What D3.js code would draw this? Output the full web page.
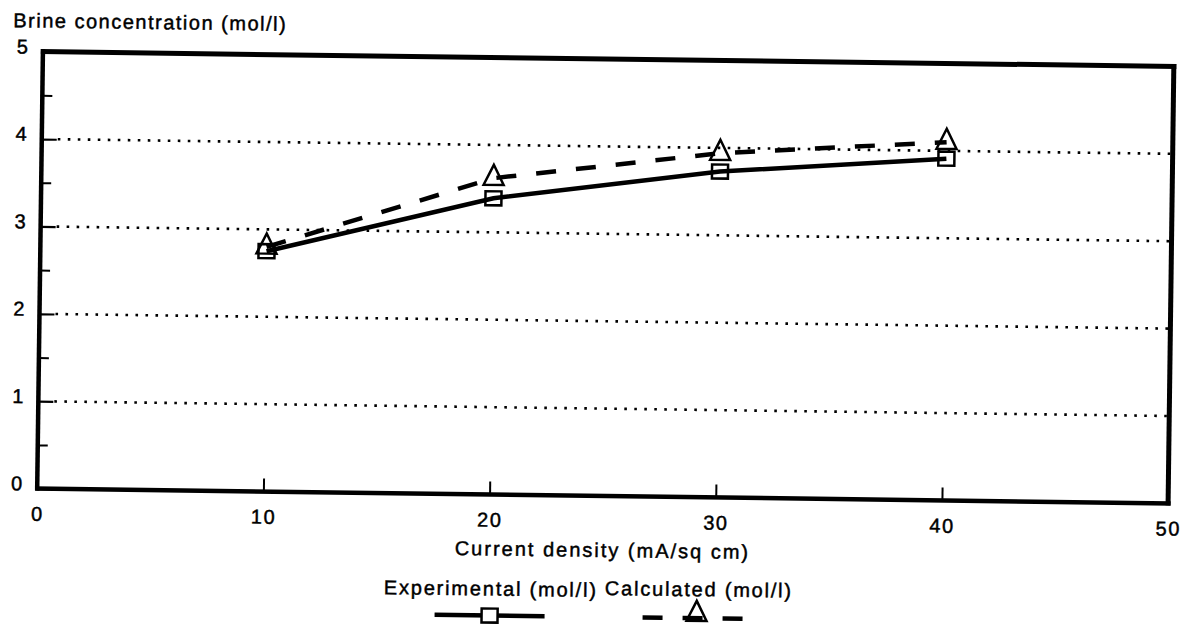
<!DOCTYPE html>
<html>
<head>
<meta charset="utf-8">
<script src="https://cdn.jsdelivr.net/npm/d3@7"></script>
<style>
  html, body { margin: 0; padding: 0; background: #fff; }
  svg { display: block; }
  text { font-family: "Liberation Sans", Arial, sans-serif; fill: #000; stroke: #000; stroke-width: 0.45px; }
</style>
</head>
<body>
<svg id="chart" width="1186" height="624"></svg>
<script>
// ---- data ----
const categories = [10, 20, 30, 40];
const experimental = [2.75, 3.39, 3.73, 3.91];
const calculated = [2.8, 3.62, 3.94, 4.1];
const xTicks = [0, 10, 20, 30, 40, 50];
const yTicks = [0, 1, 2, 3, 4, 5];
const yMinorTicks = [0.5, 1.5, 2.5, 3.5, 4.5];
const gridValues = [1, 2, 3, 4];
const titleText = "Brine concentration (mol/l)";
const xTitleText = "Current density (mA/sq cm)";
const seriesNames = ["Experimental (mol/l)", "Calculated (mol/l)"];

// ---- layout ----
const W = 1186, H = 624;
const pLeft = 40, pRight = 1171, pTop = 59, pBottom = 496;

const svg = d3.select("#chart");
svg.append("rect").attr("width", W).attr("height", H).attr("fill", "#fff");
const g = svg.append("g").attr("transform", "rotate(0.75, 604, 278)");

const x = d3.scaleLinear().domain([0, 50]).range([pLeft, pRight]);
const y = d3.scaleLinear().domain([0, 5]).range([pBottom, pTop]);

// dotted gridlines
g.selectAll(".grid").data(gridValues).enter().append("line")
  .attr("x1", x(0) + 16).attr("x2", x(50))
  .attr("y1", d => y(d)).attr("y2", d => y(d))
  .attr("stroke", "#000").attr("stroke-width", 2.6)
  .attr("stroke-dasharray", "2.6 7.4");

// y axis major
const yAxis = g.append("g").attr("transform", `translate(${pLeft},0)`)
  .call(d3.axisLeft(y).tickValues(yTicks).tickSize(-15).tickPadding(15).tickFormat(d3.format("d")));
yAxis.select(".domain").remove();
yAxis.selectAll(".tick line").attr("stroke", "#000").attr("stroke-width", 2.2);
yAxis.selectAll("text").attr("font-size", 20).attr("dy", "0.08em")
  .style("font-family", '"Liberation Sans", Arial, sans-serif');

// y axis minor
const yMinor = g.append("g").attr("transform", `translate(${pLeft},0)`)
  .call(d3.axisLeft(y).tickValues(yMinorTicks).tickSize(-10).tickFormat(""));
yMinor.select(".domain").remove();
yMinor.selectAll(".tick line").attr("stroke", "#000").attr("stroke-width", 2);

// x axis
const xAxis = g.append("g").attr("transform", `translate(0,${pBottom})`)
  .call(d3.axisBottom(x).tickValues(xTicks).tickSize(-13).tickPadding(18).tickFormat(d3.format("d")));
xAxis.select(".domain").remove();
xAxis.selectAll(".tick line").attr("stroke", "#000").attr("stroke-width", 2);
xAxis.selectAll("text").attr("font-size", 20).attr("letter-spacing", 1.5)
  .style("font-family", '"Liberation Sans", Arial, sans-serif');

// frame
const frame = [
  {x1: pLeft, y1: pTop, x2: pRight, y2: pTop, w: 5},
  {x1: pRight, y1: pTop, x2: pRight, y2: pBottom, w: 5},
  {x1: pLeft, y1: pTop, x2: pLeft, y2: pBottom, w: 4.5},
  {x1: pLeft, y1: pBottom, x2: pRight, y2: pBottom, w: 4.5}
];
g.selectAll(".frame").data(frame).enter().append("line")
  .attr("x1", d => d.x1 - (d.y1 === d.y2 ? 2 : 0)).attr("x2", d => d.x2 + (d.y1 === d.y2 ? 2.5 : 0))
  .attr("y1", d => d.y1 - (d.x1 === d.x2 ? 2.5 : 0)).attr("y2", d => d.y2 + (d.x1 === d.x2 ? 2 : 0))
  .attr("stroke", "#000").attr("stroke-width", d => d.w);

// series lines
const expData = categories.map((c, i) => [c, experimental[i]]);
const calcData = categories.map((c, i) => [c, calculated[i]]);
const line = d3.line().x(d => x(d[0])).y(d => y(d[1]));

g.append("path").datum(expData).attr("d", line)
  .attr("fill", "none").attr("stroke", "#000").attr("stroke-width", 4.5);
g.append("path").datum(calcData).attr("d", line)
  .attr("fill", "none").attr("stroke", "#000").attr("stroke-width", 4.5)
  .attr("stroke-dasharray", "20 20");

// markers
const sqW = 16, sqH = 14;
const triW = 20, triH = 20;
const triPath = `M0,${-2 * triH / 3}L${triW / 2},${triH / 3}L${-triW / 2},${triH / 3}Z`;

function squares(sel, data) {
  sel.selectAll(null).data(data).enter().append("rect")
    .attr("x", d => x(d[0]) - sqW / 2).attr("y", d => y(d[1]) - sqH / 2)
    .attr("width", sqW).attr("height", sqH)
    .attr("fill", "none").attr("stroke", "#000").attr("stroke-width", 2.5);
}
function triangles(sel, data) {
  sel.selectAll(null).data(data).enter().append("path")
    .attr("transform", d => `translate(${x(d[0])},${y(d[1])})`)
    .attr("d", triPath)
    .attr("fill", "none").attr("stroke", "#000").attr("stroke-width", 2.5);
}
squares(g.append("g"), expData);
triangles(g.append("g"), calcData);

// titles
g.append("text").attr("x", 10).attr("y", 35).attr("font-size", 20)
  .attr("letter-spacing", 1.5).text(titleText);
g.append("text").attr("x", 606).attr("y", 557).attr("font-size", 20)
  .attr("text-anchor", "middle").attr("letter-spacing", 2).text(xTitleText);

// legend
g.append("text").attr("x", 388).attr("y", 597).attr("font-size", 20)
  .attr("letter-spacing", 1.8).text(seriesNames[0]);
g.append("text").attr("x", 797).attr("y", 595).attr("font-size", 20)
  .attr("text-anchor", "end").attr("letter-spacing", 1.8).text(seriesNames[1]);

const legY = 617;
g.append("line").attr("x1", 439).attr("x2", 549).attr("y1", legY).attr("y2", legY)
  .attr("stroke", "#000").attr("stroke-width", 4.5);
g.append("rect").attr("x", 494 - sqW / 2).attr("y", legY - sqH / 2).attr("width", sqW).attr("height", sqH)
  .attr("fill", "#fff").attr("stroke", "#000").attr("stroke-width", 2.5);
g.append("line").attr("x1", 647).attr("x2", 755).attr("y1", legY).attr("y2", legY)
  .attr("stroke", "#000").attr("stroke-width", 4.5).attr("stroke-dasharray", "20 20");
g.append("path").attr("transform", `translate(701,${legY - 4})`).attr("d", triPath)
  .attr("fill", "none").attr("stroke", "#000").attr("stroke-width", 2.5);
</script>
</body>
</html>
